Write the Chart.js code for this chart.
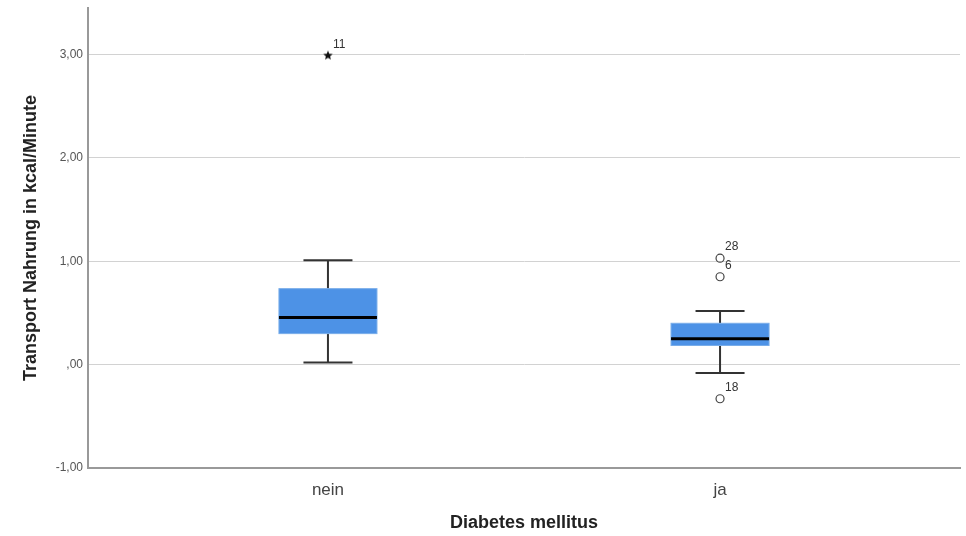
<!DOCTYPE html>
<html>
<head>
<meta charset="utf-8">
<script src="https://cdn.jsdelivr.net/npm/chart.js@4"></script>
<style>
    html, body { margin: 0; padding: 0; background: #fff; }
    #wrap { width: 966px; height: 536px; }
</style>
</head>
<body>
<div id="wrap"><canvas id="chart" width="966" height="536"></canvas></div>
<script>
// values
const groups = ['nein', 'ja'];
const whiskerLow = [0.02, -0.08];
const q1 = [0.30, 0.185];
const median = [0.455, 0.25];
const q3 = [0.735, 0.40];
const whiskerHigh = [1.01, 0.52];

// outliers (circles) and extremes (stars)
const outlierGroup = [1, 1, 1];
const outlierValue = [1.03, 0.85, -0.33];
const outlierId = ['28', '6', '18'];
const extremeGroup = [0];
const extremeValue = [2.99];
const extremeId = ['11'];

const yTicks = [-1, 0, 1, 2, 3];

const FONT = '"Liberation Sans", Arial, sans-serif';

function fmt(v) {
    // SPSS style: comma decimals, no leading zero for 0
    let s = v.toFixed(2).replace('.', ',');
    if (v === 0) s = ',00';
    return s;
}

// small filled star for the extreme values
function starImage() {
    let c = document.createElement('canvas');
    c.width = 12;
    c.height = 12;
    let g = c.getContext('2d');
    g.fillStyle = '#111';
    g.beginPath();
    for (let i = 0; i < 10; i++) {
        let r = i % 2 === 0 ? 5 : 2.2;
        let a = -Math.PI / 2 + i * Math.PI / 5;
        let px = 6 + r * Math.cos(a), py = 6 + r * Math.sin(a);
        if (i === 0) g.moveTo(px, py); else g.lineTo(px, py);
    }
    g.closePath();
    g.fill();
    return c;
}

const boxPlugin = {
    id: 'boxes',
    beforeDatasetsDraw(chart) {
        const ctx = chart.ctx;
        const x = chart.scales.x, y = chart.scales.y;
        const half = 0.125, cap = 0.0625;
        ctx.save();
        groups.forEach((g, i) => {
            let cx = x.getPixelForValue(i);
            let l = x.getPixelForValue(i - half), r = x.getPixelForValue(i + half);
            let cl = x.getPixelForValue(i - cap), cr = x.getPixelForValue(i + cap);
            let yLo = y.getPixelForValue(whiskerLow[i]);
            let yQ1 = y.getPixelForValue(q1[i]);
            let yMed = y.getPixelForValue(median[i]);
            let yQ3 = y.getPixelForValue(q3[i]);
            let yHi = y.getPixelForValue(whiskerHigh[i]);

            ctx.strokeStyle = '#333';
            ctx.lineWidth = 2;
            ctx.beginPath();
            ctx.moveTo(cx, yHi); ctx.lineTo(cx, yQ3);
            ctx.moveTo(cx, yQ1); ctx.lineTo(cx, yLo);
            ctx.moveTo(cl, yHi); ctx.lineTo(cr, yHi);
            ctx.moveTo(cl, yLo); ctx.lineTo(cr, yLo);
            ctx.stroke();

            ctx.fillStyle = '#4d92e6';
            ctx.fillRect(l, yQ3, r - l, yQ1 - yQ3);
            ctx.strokeStyle = '#7aaeea';
            ctx.lineWidth = 1;
            ctx.strokeRect(l, yQ3, r - l, yQ1 - yQ3);

            ctx.strokeStyle = '#000';
            ctx.lineWidth = 3;
            ctx.beginPath();
            ctx.moveTo(l, yMed); ctx.lineTo(r, yMed);
            ctx.stroke();
        });
        ctx.restore();
    },
    afterDatasetsDraw(chart) {
        const ctx = chart.ctx;
        const x = chart.scales.x, y = chart.scales.y;
        ctx.save();
        ctx.font = '12px ' + FONT;
        ctx.fillStyle = '#333';
        ctx.textAlign = 'left';
        ctx.textBaseline = 'middle';
        const put = (gs, vs, ids) => {
            ids.forEach((id, k) => {
                ctx.fillText(id, x.getPixelForValue(gs[k]) + 5, y.getPixelForValue(vs[k]) - 11);
            });
        };
        put(outlierGroup, outlierValue, outlierId);
        put(extremeGroup, extremeValue, extremeId);
        ctx.restore();
    }
};

new Chart(document.getElementById('chart'), {
    type: 'scatter',
    data: {
        datasets: [{
            data: outlierValue.map((v, k) => ({x: outlierGroup[k], y: v})),
            pointStyle: 'circle',
            radius: 4,
            borderColor: '#444',
            borderWidth: 1.2,
            backgroundColor: '#fff'
        }, {
            data: extremeValue.map((v, k) => ({x: extremeGroup[k], y: v})),
            pointStyle: starImage(),
            radius: 5
        }]
    },
    options: {
        responsive: false,
        animation: false,
        layout: {padding: {top: 8, right: 4, left: 15, bottom: 0}},
        plugins: {legend: {display: false}, tooltip: {enabled: false}},
        scales: {
            x: {
                type: 'linear',
                min: -0.612,
                max: 1.612,
                afterBuildTicks: (s) => { s.ticks = groups.map((g, i) => ({value: i})); },
                afterFit: (s) => { s.height = 68; s.paddingLeft = 0; s.paddingRight = 0; },
                ticks: {
                    callback: (v) => groups[v],
                    color: '#444',
                    padding: 12,
                    font: {size: 17, family: FONT}
                },
                grid: {display: false, drawTicks: false},
                border: {color: '#999', width: 2},
                title: {
                    display: true,
                    text: 'Diabetes mellitus',
                    color: '#222',
                    padding: {top: 4, bottom: 2},
                    font: {size: 18, weight: 'bold', family: FONT}
                }
            },
            y: {
                min: -1,
                max: 3.45,
                afterBuildTicks: (s) => { s.ticks = yTicks.map(v => ({value: v})); },
                afterFit: (s) => { s.width = 73; s.paddingTop = 0; s.paddingBottom = 0; },
                ticks: {
                    callback: (v) => fmt(v),
                    color: '#555',
                    padding: 5,
                    font: {size: 12, family: FONT}
                },
                grid: {color: '#d2d2d2', lineWidth: 1, drawTicks: false},
                border: {color: '#999', width: 2},
                title: {
                    display: true,
                    text: 'Transport Nahrung in kcal/Minute',
                    color: '#222',
                    padding: {top: 5, bottom: 4},
                    font: {size: 18, weight: 'bold', family: FONT}
                }
            }
        }
    },
    plugins: [boxPlugin]
});
</script>
</body>
</html>
